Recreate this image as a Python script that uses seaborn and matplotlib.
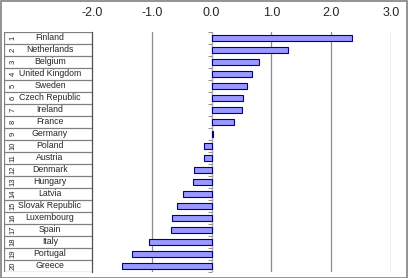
import matplotlib as mpl
mpl.use('Agg')
import matplotlib.pyplot as plt
import seaborn as sns
import pandas as pd
from matplotlib.patches import Rectangle

countries = ['Finland', 'Netherlands', 'Belgium', 'United Kingdom', 'Sweden',
             'Czech Republic', 'Ireland', 'France', 'Germany', 'Poland',
             'Austria', 'Denmark', 'Hungary', 'Latvia', 'Slovak Republic',
             'Luxembourg', 'Spain', 'Italy', 'Portugal', 'Greece']
values = [2.34, 1.28, 0.79, 0.67, 0.585, 0.53, 0.505, 0.38, 0.02, -0.12,
          -0.13, -0.29, -0.31, -0.47, -0.575, -0.67, -0.675, -1.05, -1.33, -1.50]
ranks = list(range(1, 21))
xticks = [-2.0, -1.0, 0.0, 1.0, 2.0, 3.0]

df = pd.DataFrame({'country': countries, 'value': values})

sns.set_style('white')
plt.rcParams['font.family'] = ['Liberation Sans', 'DejaVu Sans']

W, H = 410, 278
fig = plt.figure(figsize=(W / 100, H / 100), dpi=100)
bottom = 1 - 272 / H
top = 1 - 32 / H
ax = fig.add_axes([92 / W, bottom, (391 - 92) / W, top - bottom])

grid = '#8c8c8c'
for t in xticks[1:]:
    ax.axvline(t, color=grid, lw=0.9, zorder=0)
ax.axvline(0, color='#b0b0b0', lw=0.8, zorder=0)

sns.barplot(data=df, x='value', y='country', orient='h', ax=ax,
            color='#9999ff', edgecolor='#000080', linewidth=0.8,
            width=0.5, saturation=1, zorder=3)

n = len(countries)
# small category ticks on the zero axis
ax.plot([0] * (n + 1), [i - 0.5 for i in range(n + 1)], ls='none',
        marker=0, ms=3, color='#808080', mew=0.6, zorder=2)

ax.set_xlim(-2, 3)
ax.set_ylim(n - 0.5, -0.5)
ax.set_xticks(xticks)
ax.set_xticklabels([f'{t:.1f}' for t in xticks], fontsize=9)
ax.xaxis.tick_top()
ax.tick_params(axis='x', length=0, pad=9)
ax.set_yticks([])
ax.set_xlabel('')
ax.set_ylabel('')
for s in ['top', 'right', 'bottom']:
    ax.spines[s].set_visible(False)
ax.spines['left'].set_color('#505050')
ax.spines['left'].set_linewidth(0.9)

# table of ranks and names at the left
tab = fig.add_axes([4 / W, bottom, 88 / W, top - bottom])
tab.set_xlim(0, 88)
tab.set_ylim(n - 0.5, -0.5)
tab.axis('off')
for i in range(n + 1):
    tab.axhline(i - 0.5, color='#808080', lw=0.9)
tab.axvline(0, color='#808080', lw=0.9)
for i, (r, c) in enumerate(zip(ranks, countries)):
    tab.text(9, i, str(r), rotation=90, ha='center', va='center', fontsize=5.5)
    tab.text(46, i, c, ha='center', va='center', fontsize=6.3)

fig.add_artist(Rectangle((0.5 / W, 0.5 / H), 1 - 3 / W, 1 - 1.5 / H,
                         transform=fig.transFigure, fill=False,
                         edgecolor='#808080', lw=1.2))

fig.savefig('out.png', dpi=100)
